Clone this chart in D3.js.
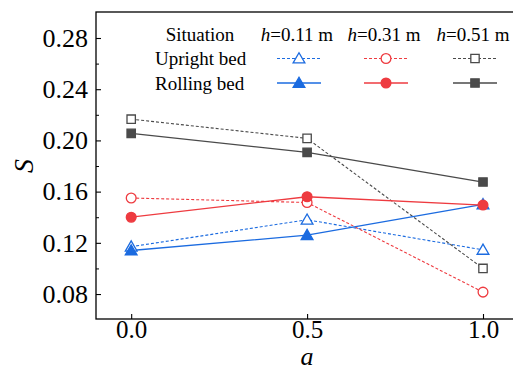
<!DOCTYPE html>
<html><head><meta charset="utf-8">
<script src="https://cdn.jsdelivr.net/npm/d3@7"></script>
<style>body{margin:0;background:#fff}svg{display:block}text{font-family:"Liberation Serif","Times New Roman",serif}</style>
</head><body><svg id="c" width="513" height="379"></svg>
<script>
const aValues = [0.0, 0.5, 1.0];
const uprightH011 = [0.117, 0.138, 0.1145];
const rollingH011 = [0.114, 0.126, 0.150];
const uprightH031 = [0.155, 0.1515, 0.0815];
const rollingH031 = [0.140, 0.156, 0.1495];
const uprightH051 = [0.2166, 0.2016, 0.100];
const rollingH051 = [0.2055, 0.1907, 0.1675];
const yTicks = [0.08, 0.12, 0.16, 0.20, 0.24, 0.28];
const yMinor = [0.10, 0.14, 0.18, 0.22, 0.26];
const xTicks = [0.0, 0.5, 1.0];
const heights = ["0.11", "0.31", "0.51"];
const situations = ["Upright bed", "Rolling bed"];

const colors = ["#1b6be0", "#ee3b40", "#4a4a4a"];
const shapes = [d3.symbolTriangle, d3.symbolCircle, d3.symbolSquare];
const symSizes = [60, 75, 70];
const series = [
  {v: uprightH011, g: 0, open: true}, {v: uprightH031, g: 1, open: true}, {v: uprightH051, g: 2, open: true},
  {v: rollingH011, g: 0, open: false}, {v: rollingH031, g: 1, open: false}, {v: rollingH051, g: 2, open: false}
];

const svg = d3.select("#c");
const L = 96, T = 12, B = 319, R = 530;
const x = d3.scaleLinear().domain([-0.1, 1.0]).range([L, 483]);
const y = d3.scaleLinear().domain([0.0605, 0.28]).range([B, 38]);

// frame
svg.append("rect").attr("x", L).attr("y", T).attr("width", R - L).attr("height", B - T)
  .attr("fill", "none").attr("stroke", "#000").attr("stroke-width", 1.3);

// y axis
const ya = svg.append("g").attr("transform", `translate(${L},0)`)
  .call(d3.axisLeft(y).tickValues(yTicks).tickFormat(d3.format(".2f")).tickSizeInner(-5).tickSizeOuter(0).tickPadding(8));
ya.select(".domain").remove();
ya.selectAll("text").attr("font-size", 26).attr("fill", "#000").attr("font-family", "Liberation Serif");
ya.selectAll("line").attr("stroke-width", 1.1);
const ym = svg.append("g").attr("transform", `translate(${L},0)`)
  .call(d3.axisLeft(y).tickValues(yMinor).tickFormat("").tickSizeInner(-3).tickSizeOuter(0));
ym.select(".domain").remove();

// x axis
const xa = svg.append("g").attr("transform", `translate(0,${B})`)
  .call(d3.axisBottom(x).tickValues(xTicks).tickFormat(d3.format(".1f")).tickSizeInner(-5).tickSizeOuter(0).tickPadding(1));
xa.select(".domain").remove();
xa.selectAll("text").attr("font-size", 25).attr("fill", "#000").attr("font-family", "Liberation Serif");
xa.selectAll("line").attr("stroke-width", 1.1);

// axis titles
svg.append("text").attr("transform", "translate(33,166) rotate(-90)").attr("text-anchor", "middle")
  .attr("font-size", 28).attr("font-style", "italic").text("S");
svg.append("text").attr("x", x(0.5)).attr("y", 365).attr("text-anchor", "middle")
  .attr("font-size", 26).attr("font-style", "italic").text("a");

// series
const line = d3.line().x((d, i) => x(aValues[i])).y(d => y(d));
series.forEach(s => {
  svg.append("path").datum(s.v).attr("d", line).attr("fill", "none")
    .attr("stroke", colors[s.g]).attr("stroke-width", s.open ? 1.1 : 1.3)
    .attr("stroke-dasharray", s.open ? "3,2" : null);
});
series.forEach(s => {
  const sym = d3.symbol().type(shapes[s.g]).size(symSizes[s.g]);
  svg.selectAll(null).data(s.v).enter().append("path")
    .attr("d", sym).attr("transform", (d, i) => `translate(${x(aValues[i])},${y(d) + (s.g === 0 ? 1 : 0)})`)
    .attr("fill", s.open ? "#fff" : colors[s.g]).attr("stroke", colors[s.g]).attr("stroke-width", 1.3);
});

// legend
const lg = svg.append("g");
const colX = [299, 386, 475];
lg.append("text").attr("x", 200).attr("y", 41).attr("text-anchor", "middle").attr("font-size", 19).text("Situation");
heights.forEach((h, i) => {
  const t = lg.append("text").attr("x", colX[i] - 2).attr("y", 41).attr("text-anchor", "middle").attr("font-size", 19);
  t.append("tspan").attr("font-style", "italic").text("h");
  t.append("tspan").text("=" + h + " m");
});
const rowY = [58.5, 83];
situations.forEach((s, r) => {
  lg.append("text").attr("x", 155).attr("y", rowY[r] + 6.5).attr("font-size", 19).text(s);
  colX.forEach((cx, i) => {
    lg.append("line").attr("x1", cx - 22).attr("x2", cx + 22).attr("y1", rowY[r]).attr("y2", rowY[r])
      .attr("stroke", colors[i]).attr("stroke-width", r === 0 ? 1.1 : 1.3).attr("stroke-dasharray", r === 0 ? "3,2" : null);
    lg.append("path").attr("d", d3.symbol().type(shapes[i]).size(symSizes[i]))
      .attr("transform", `translate(${cx},${rowY[r] + (i === 0 ? 1 : 0)})`)
      .attr("fill", r === 0 ? "#fff" : colors[i]).attr("stroke", colors[i]).attr("stroke-width", 1.3);
  });
});
</script></body></html>
